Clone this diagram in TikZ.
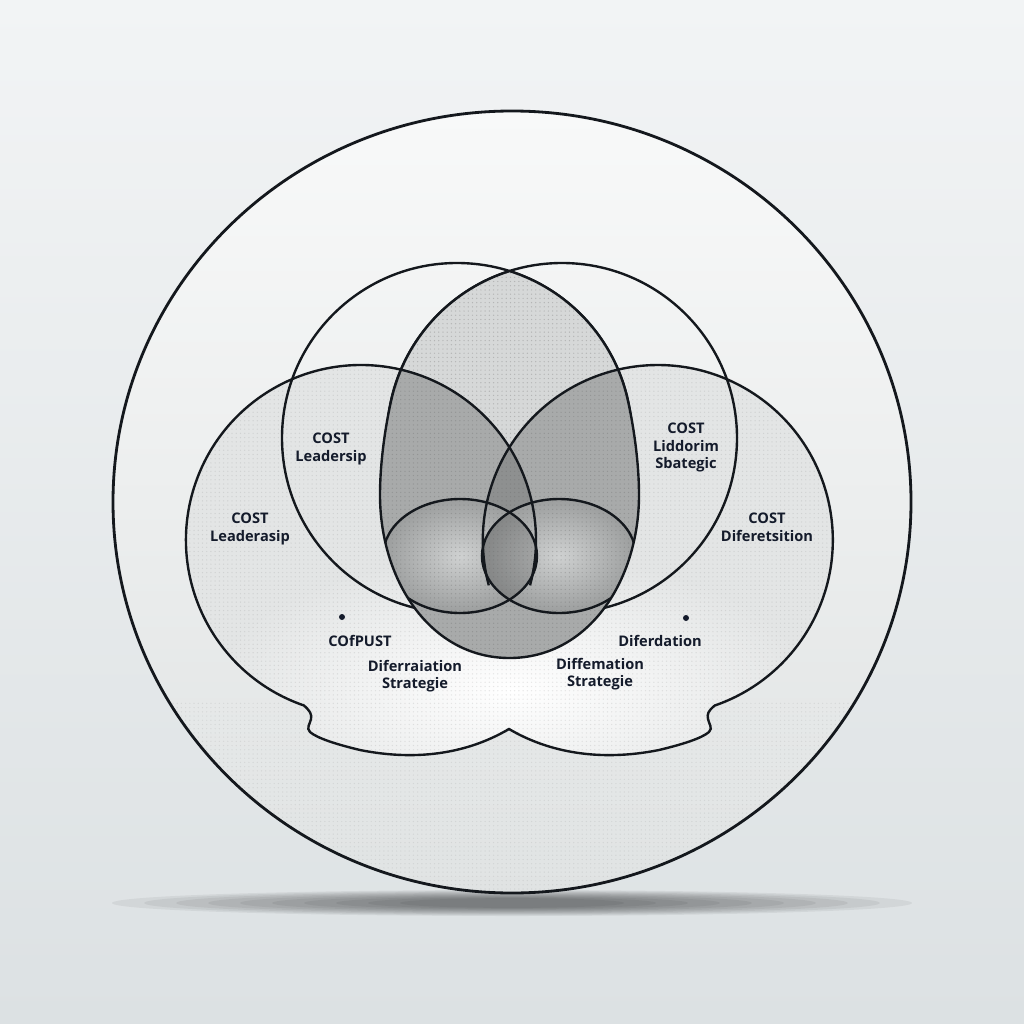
\documentclass[tikz,border=0pt]{standalone}
\usepackage{fontspec}
\usetikzlibrary{patterns}
\newfontfamily\lblfont{Open Sans}
\definecolor{bgtop}{HTML}{F2F4F5}
\definecolor{bgbot}{HTML}{DCE1E3}
\definecolor{linec}{HTML}{14181D}
\definecolor{txtc}{HTML}{141B2B}
\definecolor{bigtop}{HTML}{F8F9F9}
\definecolor{bigbot}{HTML}{E0E3E3}
\definecolor{cloudc}{HTML}{E3E5E5}
\definecolor{eggc}{HTML}{D6D8D8}
\definecolor{petalc}{HTML}{A8AAAA}
\definecolor{lensc}{HTML}{8E9090}
\definecolor{bubin}{HTML}{CFD1D1}
\definecolor{bubout}{HTML}{9C9E9E}
\def\cloudpath{(304,705.5) arc[start angle=109, end angle=328, radius=175]
  arc[start angle=212, end angle=431, radius=175]
  .. controls (708,711) and (707,714) .. (708,719)
  .. controls (709,724) and (713,728) .. (709,732)
  .. controls (702,738) and (684,744) .. (659,750)
  .. controls (599,762) and (548,752) .. (509,729)
  .. controls (470,752) and (420,762) .. (360,750)
  .. controls (335,744) and (317,738) .. (310,732)
  .. controls (306,728) and (310,724) .. (311,719)
  .. controls (312,714) and (310,711) .. (304,705.5) -- cycle}
\def\eggpath{(509.5,271.1) arc[start angle=252.5, end angle=195, radius=175]
  .. controls (388,412) and (380,455) .. (380,495)
  .. controls (380,580) and (430,658) .. (509.5,658)
  .. controls (589,658) and (639,580) .. (639,495)
  .. controls (639,455) and (631,412) .. (626,392.7)
  arc[start angle=345, end angle=287.5, radius=175] -- cycle}
\begin{document}
\begin{tikzpicture}[x=0.025cm,y=-0.025cm,
  ln/.style={draw=linec, line width=1.7pt},
  lbl/.style={font=\lblfont\bfseries\fontsize{10.4}{12.2}\selectfont, text=txtc, align=center, inner sep=0pt, anchor=north},
  dotn/.style={circle, fill=txtc, inner sep=0pt, minimum size=0.15cm},
  stip/.style={pattern=dots, pattern color=black!60, opacity=#1}]
\useasboundingbox (0,0) rectangle (1024,1024);
\shade[top color=bgtop, bottom color=bgbot] (0,0) rectangle (1024,1024);
% shadow
\foreach \i in {0,...,9}{
  \fill[black, opacity=0.055] (512,903) ellipse[x radius={400-32*\i}, y radius={13-0.9*\i}];
}
% big circle
\shade[top color=bigtop, middle color=white, bottom color=bigbot] (512,502) ellipse[x radius=399, y radius=391];
\begin{scope}
  \clip (512,502) ellipse[x radius=399, y radius=391];
  \fill[stip=0.12] (100,700) rectangle (924,900);
\end{scope}
\draw[draw=linec, line width=2pt] (512,502) ellipse[x radius=399, y radius=391];
% cloud
\fill[cloudc] \cloudpath;
\begin{scope}
  \clip \cloudpath;
  \shade[inner color=white, outer color=cloudc] (512,690) ellipse[x radius=300, y radius=135];
  \fill[stip=0.15] \cloudpath;
\end{scope}
% upper circles
\draw[ln] (457,438) circle[radius=175];
\draw[ln] (562,438) circle[radius=175];
% egg fills
\fill[eggc] \eggpath;
\begin{scope}
  \clip \eggpath;
  \fill[petalc] (361,540) circle[radius=175];
  \fill[petalc] (657.8,540) circle[radius=175];
  \fill[petalc] (370,595) rectangle (650,665);
  \begin{scope}
    \clip (361,540) circle[radius=175];
    \clip (400,400) rectangle (620,598);
    \fill[lensc] (657.8,540) circle[radius=175];
  \end{scope}
  \shade[inner color=bubin, outer color=bubout] (460,556) ellipse[x radius=77, y radius=57];
  \shade[inner color=bubin, outer color=bubout] (559,556) ellipse[x radius=77, y radius=57];
  \begin{scope}
    \clip (460,556) ellipse[x radius=77, y radius=57];
    \fill[black, opacity=0.15] (559,556) ellipse[x radius=77, y radius=57];
  \end{scope}
  \fill[stip=0.3] \eggpath;
\end{scope}
% outlines
\draw[ln] \cloudpath;
\draw[ln] (509.4,447.3) arc[start angle=328, end angle=375, radius=175];
\draw[ln] (509.4,447.3) arc[start angle=212, end angle=165, radius=175];
\draw[ln] \eggpath;
\begin{scope}
  \clip \eggpath;
  \draw[ln] (460,556) ellipse[x radius=77, y radius=57];
  \draw[ln] (559,556) ellipse[x radius=77, y radius=57];
\end{scope}
% labels
\node[lbl] (t1) at (331,433) {COST\\Leadersip};
\node[lbl] (t2) at (250,513) {COST\\Leaderasip};
\node[lbl] (t3) at (686,423) {COST\\Liddorim\\Sbategic};
\node[lbl] (t4) at (767,513) {COST\\Diferetsition};
\node[dotn] (d1) at (342,617) {};
\node[lbl] (t5) at (360,635) {COfPUST};
\node[lbl] (t6) at (415,660) {Diferraiation\\Strategie};
\node[dotn] (d2) at (686,618) {};
\node[lbl] (t7) at (660,635) {Diferdation};
\node[lbl] (t8) at (600,658) {Diffemation\\Strategie};
\end{tikzpicture}
\end{document}
